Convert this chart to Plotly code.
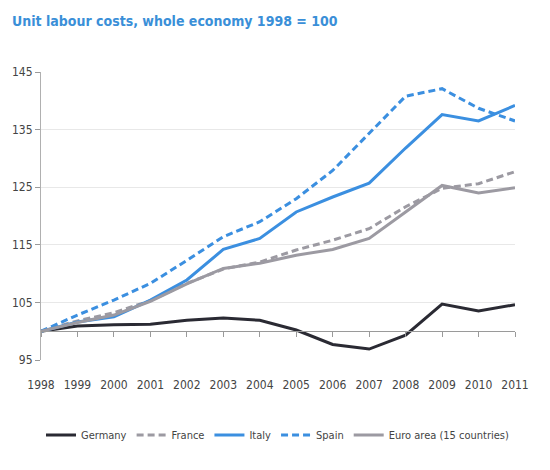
import plotly.graph_objects as go

years = list(range(1998, 2012))
germany = [100, 100.9, 101.1, 101.2, 101.9, 102.3, 101.9, 100.2, 97.7, 96.9, 99.3, 104.7, 103.5, 104.6]
france = [100, 101.8, 103.2, 105.3, 108.3, 110.8, 112.0, 114.1, 115.8, 117.8, 121.6, 124.8, 125.6, 127.7]
italy = [100, 101.6, 102.5, 105.4, 108.9, 114.2, 116.1, 120.7, 123.3, 125.7, 131.8, 137.6, 136.5, 139.2]
spain = [100, 102.8, 105.4, 108.3, 112.3, 116.4, 119.0, 123.0, 127.9, 134.3, 140.8, 142.1, 138.7, 136.5]
euro = [100, 101.5, 102.8, 105.2, 108.2, 110.9, 111.8, 113.2, 114.2, 116.1, 120.7, 125.3, 124.0, 124.9]

series = [
    ("Germany", germany, "#2a2a33", "solid"),
    ("France", france, "#9c9aa2", "7px,4px"),
    ("Italy", italy, "#3b8fe0", "solid"),
    ("Spain", spain, "#3b8fe0", "7px,4px"),
    ("Euro area (15 countries)", euro, "#9c9aa2", "solid"),
]

font = "DejaVu Sans Condensed, Liberation Sans Narrow, Arial Narrow, sans-serif"

fig = go.Figure()
for name, vals, color, dash in series:
    fig.add_trace(go.Scatter(x=years, y=vals, name=name, mode="lines",
                             line=dict(color=color, width=3, dash=dash)))

# axis line at 100 with ticks
fig.add_trace(go.Scatter(x=years, y=[None]*len(years), xaxis="x2", showlegend=False, hoverinfo="skip"))

fig.update_layout(
    width=550, height=470,
    margin=dict(l=37, r=35, t=72, b=110),
    paper_bgcolor="white", plot_bgcolor="white",
    font=dict(family=font, size=12, color="#444"),
    title=dict(text="<b>Unit labour costs, whole economy 1998 = 100</b>",
               x=0.022, xanchor="left", y=0.955, yanchor="middle",
               font=dict(family=font, size=14, color="#3a8fd8")),
    xaxis=dict(range=[1998, 2011], tickmode="array", tickvals=years,
               ticktext=[str(y) for y in years], showgrid=False, showline=False,
               ticks="", zeroline=False, ticklabelstandoff=16,
               tickfont=dict(size=12, color="#444")),
    xaxis2=dict(range=[1998, 2011], overlaying="x", anchor="free", position=0.1,
                side="bottom", showline=True, linecolor="#9a9a9a", linewidth=1,
                ticks="outside", ticklen=5, tickcolor="#9a9a9a",
                tickvals=years, showticklabels=False, showgrid=False, zeroline=False),
    yaxis=dict(range=[95, 145], tickvals=[95, 105, 115, 125, 135, 145],
               showgrid=True, gridcolor="#e8e8e8", gridwidth=1,
               showline=True, linecolor="#b0b0b0", linewidth=1,
               ticks="outside", ticklen=5, tickcolor="#9a9a9a",
               zeroline=False, tickfont=dict(size=12, color="#444")),
    legend=dict(orientation="h", x=0.5, xanchor="center", y=-0.26, yanchor="middle",
                font=dict(size=11, color="#444"), itemwidth=30, tracegroupgap=0),
    showlegend=True,
)

fig.write_html("out.html")
